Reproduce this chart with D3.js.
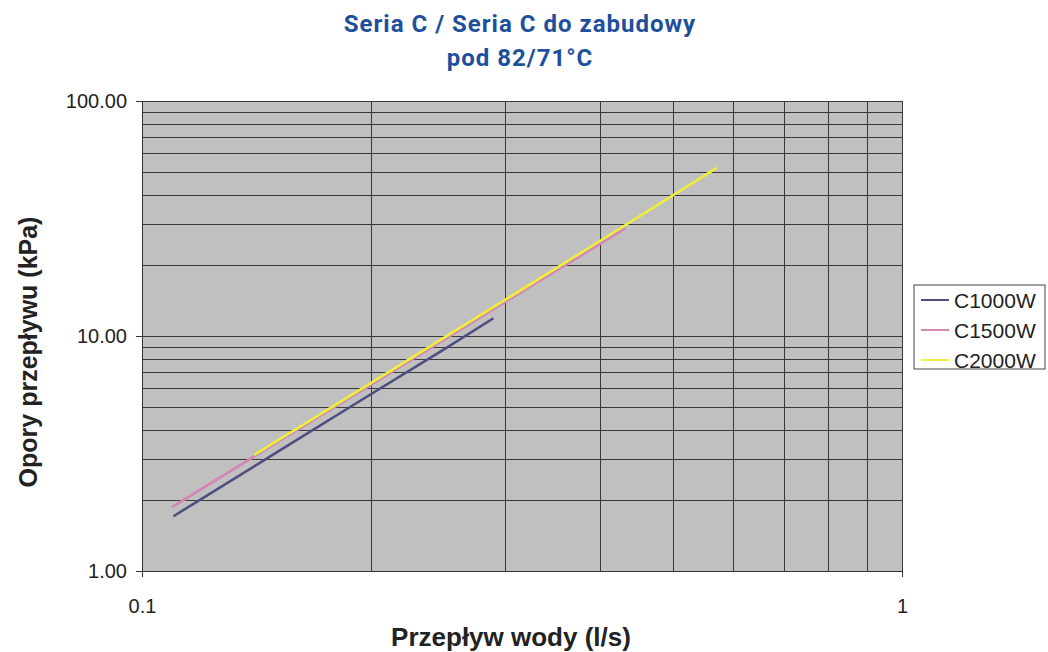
<!DOCTYPE html>
<html>
<head>
<meta charset="utf-8">
<script src="https://cdn.jsdelivr.net/npm/d3@7"></script>
<style>
  body { margin: 0; background: #fff; }
  svg { display: block; }
</style>
</head>
<body>
<div id="chart"></div>
<script>
// values (flow l/s, pressure loss kPa)
const seriesNames = ['C1000W', 'C1500W', 'C2000W'];
const seriesColors = ['#4e4e80', '#d486b4', '#eeee3c'];
const flowC1000 = [0.110, 0.15, 0.20, 0.25, 0.290];
const kpaC1000 = [1.71, 3.18, 5.65, 8.8, 11.9];
const flowC1500 = [0.1095, 0.15, 0.20, 0.30, 0.433];
const kpaC1500 = [1.87, 3.5, 6.2, 13.9, 28.8];
const flowC2000 = [0.1405, 0.20, 0.30, 0.40, 0.5705];
const kpaC2000 = [3.12, 6.3, 14.2, 25.3, 51.9];
const yTicks = [1, 10, 100];
const xTicks = [0.1, 1];

const series = [
  { name: seriesNames[0], color: seriesColors[0], values: flowC1000.map((f, i) => [f, kpaC1000[i]]) },
  { name: seriesNames[1], color: seriesColors[1], values: flowC1500.map((f, i) => [f, kpaC1500[i]]) },
  { name: seriesNames[2], color: seriesColors[2], values: flowC2000.map((f, i) => [f, kpaC2000[i]]) },
];

const W = 1048, H = 652;
const margin = { top: 101, right: 146, bottom: 81, left: 142 };
const width = W - margin.left - margin.right;
const height = H - margin.top - margin.bottom;

const svg = d3.select('#chart').append('svg')
  .attr('width', W).attr('height', H)
  .style('font-family', '"Liberation Sans", Arial, sans-serif');

// title
const title = svg.append('text')
  .attr('x', 520).attr('text-anchor', 'middle')
  .style('font-family', 'Roboto, sans-serif')
  .style('font-weight', 'bold').style('font-size', '24px')
  .style('letter-spacing', '1px')
  .style('fill', '#1d4f9c');
title.append('tspan').attr('x', 520).attr('y', 32).text('Seria C / Seria C do zabudowy');
title.append('tspan').attr('x', 520).attr('y', 66).text('pod 82/71°C');

const g = svg.append('g').attr('transform', `translate(${margin.left},${margin.top})`);

const x = d3.scaleLog().domain([0.1, 1]).range([0, width]);
const y = d3.scaleLog().domain([1, 100]).range([height, 0]);

g.append('rect').attr('width', width).attr('height', height).attr('fill', '#c0c0c0');

// gridlines
const yGrid = [];
[1, 10].forEach((dec) => { for (let k = 1; k <= 10; k++) yGrid.push(dec * k); });
g.append('g').selectAll('line').data(yGrid.filter((v) => v > 1)).join('line')
  .attr('x1', 0).attr('x2', width)
  .attr('y1', (d) => Math.round(y(d)) + 0.5).attr('y2', (d) => Math.round(y(d)) + 0.5)
  .attr('stroke', '#3a3a3a').attr('stroke-width', 1);

const xGrid = d3.range(2, 11).map((k) => k / 10);
g.append('g').selectAll('line').data(xGrid).join('line')
  .attr('y1', 0).attr('y2', height)
  .attr('x1', (d) => Math.round(x(d)) + 0.5).attr('x2', (d) => Math.round(x(d)) + 0.5)
  .attr('stroke', '#3a3a3a').attr('stroke-width', 1);

// axes
const yAxis = g.append('g')
  .call(d3.axisLeft(y).tickValues(yTicks).tickFormat(d3.format('.2f')).tickSize(6).tickPadding(9));
const xAxis = g.append('g').attr('transform', `translate(0,${height})`)
  .call(d3.axisBottom(x).tickValues(xTicks).tickFormat((d) => String(d)).tickSize(6).tickPadding(22));
[yAxis, xAxis].forEach((a) => {
  a.select('.domain').attr('stroke', '#333');
  a.selectAll('.tick line').attr('stroke', '#333');
  a.selectAll('.tick text').style('font-size', '20px').style('fill', '#222')
    .style('font-family', '"Liberation Sans", Arial, sans-serif');
});

// series lines
const line = d3.line().x((d) => x(d[0])).y((d) => y(d[1]));
g.append('g').selectAll('path').data(series).join('path')
  .attr('d', (d) => line(d.values))
  .attr('fill', 'none')
  .attr('stroke', (d) => d.color)
  .attr('stroke-width', 2.6);

// axis titles
svg.append('text')
  .attr('x', 511).attr('y', 646).attr('text-anchor', 'middle')
  .style('font-weight', 'bold').style('font-size', '26px').style('fill', '#222')
  .text('Przepływ wody (l/s)');
svg.append('text')
  .attr('transform', `translate(37,${margin.top + height / 2 + 16}) rotate(-90)`)
  .attr('text-anchor', 'middle')
  .style('font-weight', 'bold').style('font-size', '25px').style('fill', '#222')
  .text('Opory przepływu (kPa)');

// legend
const legend = svg.append('g').attr('transform', 'translate(914,285)');
legend.append('rect').attr('width', 131).attr('height', 84)
  .attr('fill', '#fff').attr('stroke', '#444').attr('stroke-width', 1);
const item = legend.selectAll('g.item').data(series).join('g')
  .attr('class', 'item')
  .attr('transform', (d, i) => `translate(0,${15 + i * 30})`);
item.append('line').attr('x1', 7).attr('x2', 35)
  .attr('stroke', (d) => d.color).attr('stroke-width', 2);
item.append('text').attr('x', 40).attr('dy', '0.36em')
  .style('font-size', '21px').style('fill', '#222')
  .text((d) => d.name);
</script>
</body>
</html>
